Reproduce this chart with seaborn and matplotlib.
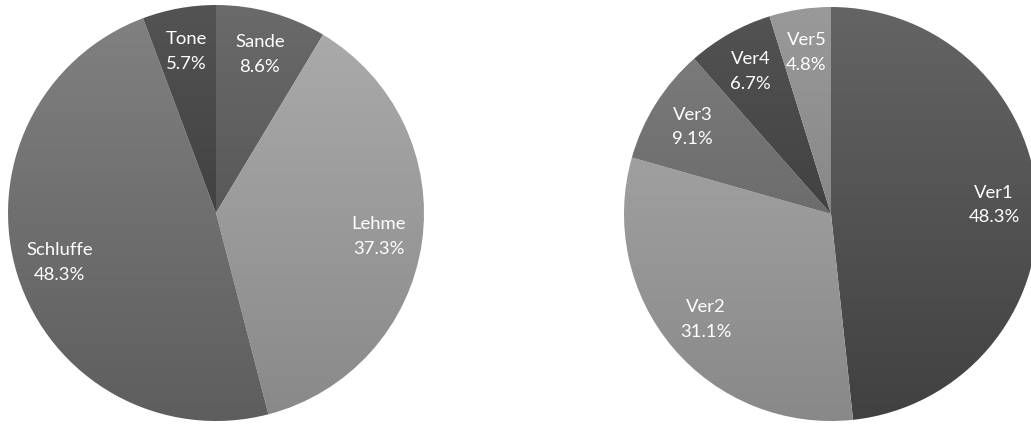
import numpy as np
import matplotlib
matplotlib.use("Agg")
import matplotlib.pyplot as plt
from matplotlib.colors import LinearSegmentedColormap, to_rgb
import seaborn as sns

# left pie: soil types
soil_labels = ["Sande", "Lehme", "Schluffe", "Tone"]
soil_values = [8.6, 37.3, 48.3, 5.7]
soil_colors = ["#5b5b5b", "#9d9d9d", "#727272", "#444444"]

# right pie: Ver1..Ver5
ver_labels = ["Ver1", "Ver2", "Ver3", "Ver4", "Ver5"]
ver_values = [48.3, 31.1, 9.1, 6.7, 4.8]
ver_colors = ["#555555", "#9d9d9d", "#6f6f6f", "#444444", "#8a8a8a"]

sns.set_theme(style="white")
plt.rcParams["font.family"] = ["Lato", "DejaVu Sans"]

W, H = 1031, 426
fig = plt.figure(figsize=(W / 100, H / 100), dpi=100)


def pie_axes(cx, cy, r):
    # pixel centre/radius -> figure fraction box
    return fig.add_axes([(cx - r) / W, (H - cy - r) / H, 2 * r / W, 2 * r / H])


def shade(c, d):
    return tuple(min(1, max(0, v + d)) for v in to_rgb(c))


def draw_pie(ax, labels, values, colors):
    wedges, _ = ax.pie(values, colors=colors, startangle=90, counterclock=False,
                       wedgeprops=dict(linewidth=0))
    grad = np.linspace(0, 1, 256)[:, None]
    for w, c, lab, v in zip(wedges, colors, labels, values):
        cmap = LinearSegmentedColormap.from_list("g", [shade(c, 0.06), shade(c, -0.08)])
        im = ax.imshow(grad, extent=(-1, 1, -1, 1), cmap=cmap, origin="upper",
                       aspect="auto", zorder=1)
        im.set_clip_path(w)
        w.set_facecolor("none")
        mid = np.deg2rad((w.theta1 + w.theta2) / 2)
        ax.text(0.79 * np.cos(mid), 0.79 * np.sin(mid), f"{lab}\n{v:.1f}%",
                ha="center", va="center", color="white", fontsize=13.3,
                linespacing=1.65, zorder=3)
    ax.set_xlim(-1, 1)
    ax.set_ylim(-1, 1)
    ax.set_aspect("equal")
    ax.axis("off")


draw_pie(pie_axes(216, 213, 208), soil_labels, soil_values, soil_colors)
draw_pie(pie_axes(831, 214, 207), ver_labels, ver_values, ver_colors)

fig.savefig("out.png", dpi=100, facecolor="white")
